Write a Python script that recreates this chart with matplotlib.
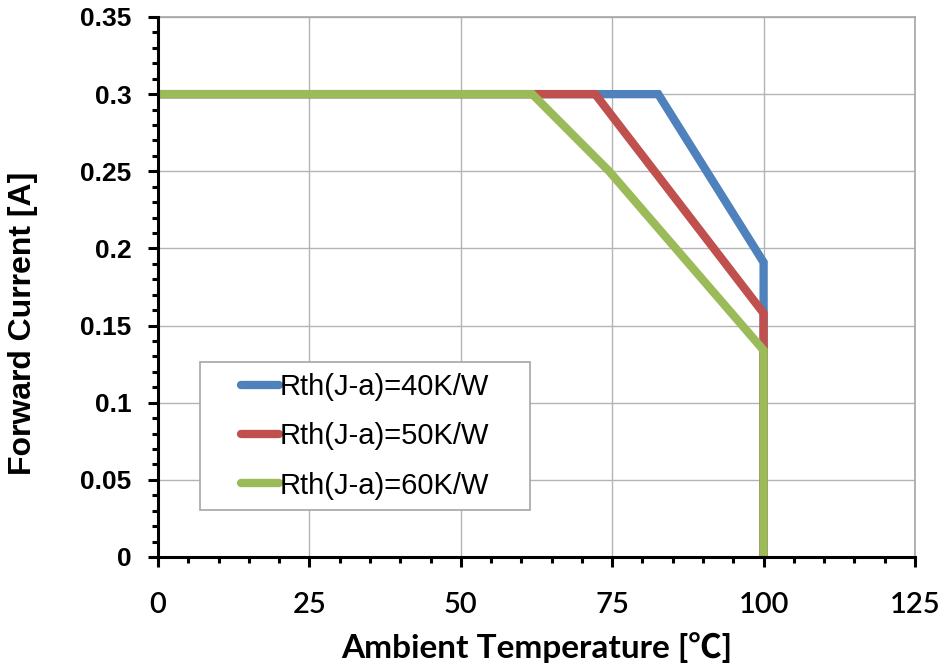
import matplotlib.pyplot as plt
from matplotlib.patches import Rectangle
from matplotlib.ticker import MultipleLocator

# derating curves
temp_40 = [0, 82.6, 100, 100]
curr_40 = [0.3, 0.3, 0.191, 0.0]
temp_50 = [0, 72.2, 100, 100]
curr_50 = [0.3, 0.3, 0.158, 0.0]
temp_60 = [0, 61.8, 74.5, 100, 100]
curr_60 = [0.3, 0.3, 0.25, 0.134, 0.0]
labels = ['Rth(J-a)=40K/W', 'Rth(J-a)=50K/W', 'Rth(J-a)=60K/W']
colors = ['#4F81BD', '#C0504D', '#9BBB59']

fig = plt.figure(figsize=(9.43, 6.68), dpi=100)
ax = fig.add_axes([158/943, 1 - 557/668, (915 - 158)/943, (557 - 17)/668])

for t, c, lab, col in zip([temp_40, temp_50, temp_60], [curr_40, curr_50, curr_60], labels, colors):
    ax.plot(t, c, color=col, lw=6, label=lab, solid_joinstyle='miter',
            solid_capstyle='butt', clip_on=False)

ax.set_xlim(0, 125)
ax.set_ylim(0, 0.35)
ax.xaxis.set_major_locator(MultipleLocator(25))
ax.xaxis.set_minor_locator(MultipleLocator(5))
ax.yaxis.set_minor_locator(MultipleLocator(0.01))
ax.set_yticks([0, 0.05, 0.1, 0.15, 0.2, 0.25, 0.3, 0.35])
ax.set_yticklabels(['0', '0.05', '0.1', '0.15', '0.2', '0.25', '0.3', '0.35'])

ax.grid(True, which='major', color='#B4B4B4', lw=1)
ax.set_axisbelow(True)
for s in ['top', 'right']:
    ax.spines[s].set_color('#A6A6A6')
    ax.spines[s].set_linewidth(1.2)
for s in ['left', 'bottom']:
    ax.spines[s].set_color('black')
    ax.spines[s].set_linewidth(2.2)
    ax.spines[s].set_zorder(5)

ax.tick_params(which='major', direction='out', length=7, width=2.2, color='black')
ax.tick_params(which='minor', direction='out', length=4, width=2.2, color='black')
ax.tick_params(axis='y', which='major', pad=12)
ax.tick_params(axis='x', which='major', pad=18)
ax.tick_params(top=False, right=False, which='both')

for lbl in ax.get_yticklabels():
    lbl.set_fontfamily('Liberation Sans')
    lbl.set_fontweight('bold')
    lbl.set_fontsize(19)
for lbl in ax.get_xticklabels():
    lbl.set_fontfamily('Lato')
    lbl.set_fontweight('semibold')
    lbl.set_fontsize(21)

ax.set_xlabel('Ambient Temperature [℃]', fontsize=24, fontweight='bold',
              family=['Lato', 'Noto Sans CJK JP'], labelpad=10)
ax.set_ylabel('Forward Current [A]', fontsize=23, fontweight='bold',
              family='Liberation Sans')
ax.yaxis.set_label_coords(-0.1585, 0.433)

# legend box drawn separately so it can be wider than its content, as in the original
ax.add_patch(Rectangle((0.0555, 0.087), 0.4359, 0.274, transform=ax.transAxes,
                       facecolor='white', edgecolor='#A6A6A6', lw=1.2, zorder=4))
leg = ax.legend(loc='upper left', bbox_to_anchor=(0.1100, 0.3407),
                prop={'family': 'Liberation Sans', 'size': 21},
                frameon=False, handlelength=1.3, handletextpad=0.0,
                labelspacing=0.73, borderpad=0, borderaxespad=0)
leg.set_zorder(6)
for h in leg.get_lines():
    h.set_solid_capstyle('round')
    h.set_linewidth(6)

fig.savefig('out.png', dpi=100)
